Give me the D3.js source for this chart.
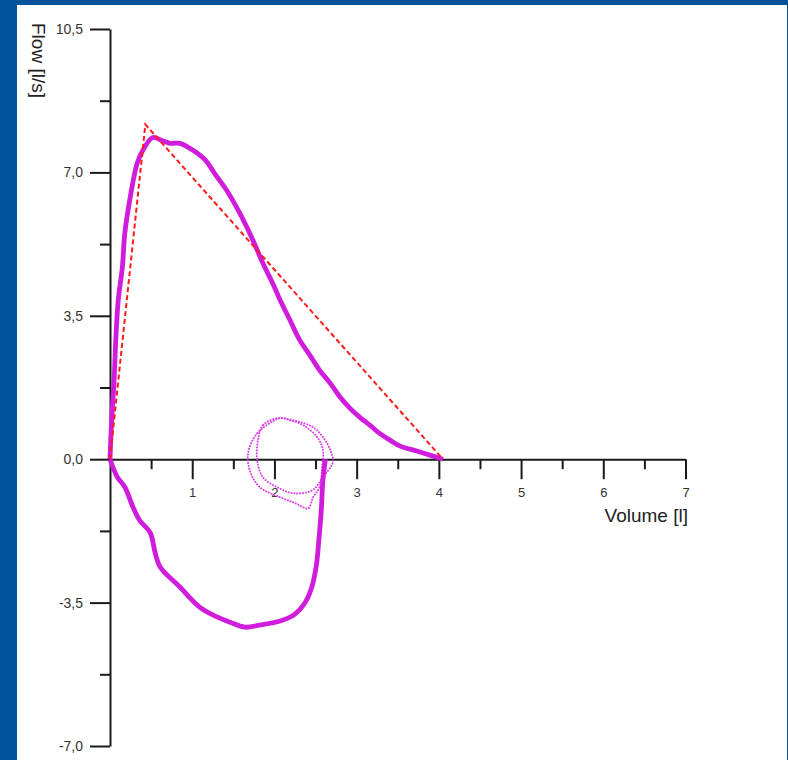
<!DOCTYPE html>
<html>
<head>
<meta charset="utf-8">
<script src="https://cdn.jsdelivr.net/npm/d3@7"></script>
<style>
  html, body { margin: 0; padding: 0; background: #00529b; }
  svg { display: block; }
</style>
</head>
<body>
<svg id="chart" width="788" height="760"></svg>
<script>
// expiration part of the loop [volume l, flow l/s]
let expVol  = [0, 0.02, 0.05, 0.07, 0.10, 0.15, 0.18, 0.24, 0.33, 0.40, 0.52, 0.63, 0.73, 0.85, 1.01, 1.16, 1.28, 1.42, 1.58, 1.74, 1.86, 1.98, 2.07, 2.19, 2.31, 2.43, 2.55, 2.68, 2.80, 2.92, 3.04, 3.16, 3.28, 3.41, 3.53, 3.73, 3.89, 4.05];
let expFlow = [0, 0.95, 1.93, 2.90, 3.88, 4.68, 5.51, 6.32, 7.22, 7.54, 7.85, 7.78, 7.71, 7.71, 7.54, 7.30, 6.95, 6.56, 6.00, 5.34, 4.78, 4.29, 3.88, 3.39, 2.90, 2.54, 2.17, 1.85, 1.51, 1.24, 1.02, 0.83, 0.63, 0.46, 0.32, 0.20, 0.10, 0];
// inspiration part
let insVol  = [0, 0.04, 0.09, 0.18, 0.28, 0.36, 0.49, 0.55, 0.61, 0.85, 1.09, 1.28, 1.46, 1.64, 1.82, 2.07, 2.25, 2.37, 2.45, 2.51, 2.54, 2.57, 2.59, 2.62];
let insFlow = [0, -0.22, -0.44, -0.68, -1.17, -1.49, -1.80, -2.29, -2.63, -3.12, -3.61, -3.83, -3.98, -4.10, -4.05, -3.95, -3.78, -3.51, -3.15, -2.59, -1.98, -1.24, -0.51, 0];
// tidal breathing loops (dotted)
let tid1Vol  = [2.07, 1.79, 1.68, 1.70, 1.82, 2.07, 2.25, 2.41, 2.47, 2.55, 2.58, 2.59, 2.52, 2.35, 2.19];
let tid1Flow = [1.00, 0.63, 0.15, -0.27, -0.68, -0.93, -1.07, -1.20, -0.93, -0.68, -0.20, 0.22, 0.54, 0.83, 0.95];
let tid2Vol  = [2.03, 1.86, 1.80, 1.79, 1.86, 2.03, 2.23, 2.46, 2.59, 2.71, 2.68, 2.59, 2.47, 2.27];
let tid2Flow = [1.00, 0.83, 0.46, -0.02, -0.44, -0.68, -0.83, -0.76, -0.44, -0.07, 0.22, 0.54, 0.78, 0.93];
// predicted triangle
let triVol  = [0, 0.43, 4.05];
let triFlow = [0, 8.17, 0];

let xTicks = [1, 2, 3, 4, 5, 6, 7];
let xMinor = [0.5, 1.5, 2.5, 3.5, 4.5, 5.5, 6.5];
let yTicks = [-7, -3.5, 0, 3.5, 7, 10.5];
let yMinor = [-5.25, -1.75, 1.75, 5.25, 8.75];

let svg = d3.select("#chart");
let font = "Liberation Sans, Arial, sans-serif";

// white panel
svg.append("rect")
  .attr("x", 17).attr("y", 5)
  .attr("width", 770).attr("height", 760)
  .attr("fill", "#ffffff");

let x = d3.scaleLinear().domain([0, 7]).range([110, 685.5]);
let y = d3.scaleLinear().domain([-7, 10.5]).range([746, 29]);

function pts(vs, fs) {
  return vs.map(function (v, i) { return [v, fs[i]]; });
}

let line = d3.line()
  .x(function (d) { return x(d[0]); })
  .y(function (d) { return y(d[1]); });
let smooth = d3.line()
  .x(function (d) { return x(d[0]); })
  .y(function (d) { return y(d[1]); })
  .curve(d3.curveCatmullRom);
let closed = d3.line()
  .x(function (d) { return x(d[0]); })
  .y(function (d) { return y(d[1]); })
  .curve(d3.curveCatmullRomClosed);

let fmt = function (d) { return d.toFixed(1).replace(".", ","); };

// y axis
let gy = svg.append("g").attr("transform", "translate(" + x(0) + ",0)");
gy.call(d3.axisLeft(y).tickValues(yTicks).tickSize(20).tickSizeOuter(0).tickPadding(7).tickFormat(fmt));
let gyMinor = svg.append("g").attr("transform", "translate(" + x(0) + ",0)");
gyMinor.call(d3.axisLeft(y).tickValues(yMinor).tickSize(10).tickFormat(""));
gyMinor.select(".domain").remove();

// x axis
let gx = svg.append("g").attr("transform", "translate(0," + y(0) + ")");
gx.call(d3.axisBottom(x).tickValues(xTicks).tickSize(20).tickSizeOuter(0).tickPadding(9).tickFormat(d3.format("d")));
let gxMinor = svg.append("g").attr("transform", "translate(0," + y(0) + ")");
gxMinor.call(d3.axisBottom(x).tickValues(xMinor).tickSize(10).tickFormat(""));
gxMinor.select(".domain").remove();

svg.selectAll(".domain, .tick line")
  .attr("stroke", "#1a1a1a")
  .attr("stroke-width", 2);
gy.selectAll(".tick text")
  .attr("fill", "#333").style("font-family", font).style("font-size", "14px");
gx.selectAll(".tick text")
  .attr("fill", "#333").style("font-family", font).style("font-size", "13px");

// axis titles
svg.append("text")
  .attr("x", 688).attr("y", 522)
  .attr("text-anchor", "end")
  .style("font-family", font)
  .style("font-size", "19px")
  .attr("fill", "#222")
  .text("Volume [l]");

svg.append("text")
  .attr("transform", "translate(32,23) rotate(90)")
  .attr("text-anchor", "start")
  .style("font-family", font)
  .style("font-size", "19px")
  .attr("fill", "#222")
  .text("Flow [l/s]");

// tidal loops
[pts(tid1Vol, tid1Flow), pts(tid2Vol, tid2Flow)].forEach(function (d) {
  svg.append("path")
    .attr("d", closed(d))
    .attr("fill", "none")
    .attr("stroke", "#dd3ee8")
    .attr("stroke-width", 2)
    .attr("stroke-linecap", "round")
    .attr("stroke-dasharray", "0.1,2.8");
});

// forced loop: expiration and inspiration
[pts(expVol, expFlow), pts(insVol, insFlow)].forEach(function (d) {
  svg.append("path")
    .attr("d", smooth(d))
    .attr("fill", "none")
    .attr("stroke", "#d01cdc")
    .attr("stroke-width", 4.8)
    .attr("stroke-linejoin", "round");
});

// predicted triangle
svg.append("path")
  .attr("d", line(pts(triVol, triFlow)))
  .attr("fill", "none")
  .attr("stroke", "#ff1a1a")
  .attr("stroke-width", 2)
  .attr("stroke-dasharray", "5,3");
</script>
</body>
</html>
